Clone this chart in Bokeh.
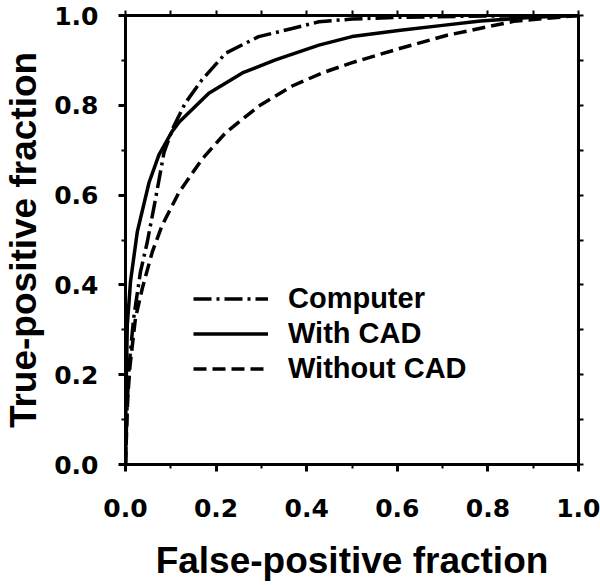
from bokeh.plotting import figure
from bokeh.models import Range1d, LinearAxis, FixedTicker, Legend, LegendItem
from bokeh.embed import file_html
from bokeh.resources import INLINE

# ---- data ----
computer_fpf = [0.0, 0.003, 0.008, 0.018, 0.033, 0.048, 0.066, 0.085, 0.105, 0.132, 0.169, 0.221,
                0.294, 0.368, 0.427, 0.5, 0.6, 0.8, 1.0]
computer_tpf = [0.0, 0.12, 0.22, 0.326, 0.429, 0.495, 0.59, 0.695, 0.75, 0.805, 0.857, 0.916,
                0.953, 0.971, 0.986, 0.992, 0.996, 0.999, 1.0]

withcad_fpf = [0.0, 0.001, 0.004, 0.011, 0.026, 0.052, 0.074, 0.103, 0.118, 0.184, 0.258, 0.331,
               0.427, 0.5, 0.607, 0.7, 0.784, 0.9, 1.0]
withcad_tpf = [0.0, 0.15, 0.311, 0.407, 0.518, 0.628, 0.69, 0.742, 0.762, 0.827, 0.872, 0.901,
               0.934, 0.953, 0.967, 0.978, 0.988, 0.996, 1.0]

without_fpf = [0.0, 0.005, 0.01, 0.022, 0.037, 0.059, 0.081, 0.118, 0.169, 0.221, 0.294, 0.368,
               0.434, 0.497, 0.607, 0.71, 0.857, 1.0]
without_tpf = [0.0, 0.15, 0.22, 0.326, 0.392, 0.473, 0.533, 0.606, 0.68, 0.739, 0.798, 0.843,
               0.872, 0.894, 0.927, 0.956, 0.987, 1.0]

series_names = ["Computer", "With CAD", "Without CAD"]

tick_values = [0.0, 0.2, 0.4, 0.6, 0.8, 1.0]
tick_labels = ["0.0", "0.2", "0.4", "0.6", "0.8", "1.0"]
minor_values = [0.1, 0.3, 0.5, 0.7, 0.9]

FONT = "Liberation Sans"
TICK_FONT = "DejaVu Sans"

p = figure(width=600, height=585,
           x_range=Range1d(0, 1), y_range=Range1d(0, 1),
           output_backend="svg", toolbar_location=None,
           min_border_left=125, min_border_right=22,
           min_border_top=15, min_border_bottom=121,
           x_axis_label="False-positive fraction",
           y_axis_label="True-positive fraction")
p.outline_line_color = None
p.xgrid.visible = False
p.ygrid.visible = False
p.background_fill_color = "white"
p.border_fill_color = "white"


def style_main(ax):
    ax.ticker = FixedTicker(ticks=tick_values, minor_ticks=minor_values)
    ax.axis_line_width = 3
    ax.axis_line_color = "black"
    ax.major_tick_line_width = 3
    ax.minor_tick_line_width = 2
    ax.major_tick_in = 0
    ax.minor_tick_in = 0
    ax.major_tick_out = 7
    ax.minor_tick_out = 4
    ax.major_label_overrides = {v: l for v, l in zip(tick_values, tick_labels)}
    ax.major_label_text_font = TICK_FONT
    ax.major_label_text_font_style = "bold"
    ax.major_label_text_font_size = "25px"
    ax.major_label_text_color = "black"
    ax.axis_label_text_font = FONT
    ax.axis_label_text_font_style = "bold"
    ax.axis_label_text_font_size = "37px"
    ax.axis_label_text_color = "black"


def style_mirror(ax):
    # mirrored frame side: tick marks only, no labels
    ax.ticker = FixedTicker(ticks=[], minor_ticks=tick_values + minor_values)
    ax.axis_line_width = 3
    ax.axis_line_color = "black"
    ax.minor_tick_line_width = 2
    ax.minor_tick_in = 0
    ax.minor_tick_out = 5
    ax.major_tick_in = 0
    ax.major_tick_out = 0
    ax.major_label_standoff = 0


style_main(p.xaxis[0])
style_main(p.yaxis[0])
p.xaxis[0].major_label_standoff = 27
p.xaxis[0].axis_label_standoff = 20
p.yaxis[0].major_label_standoff = 20
p.yaxis[0].axis_label_standoff = 7

top = LinearAxis()
right = LinearAxis()
style_mirror(top)
style_mirror(right)
p.add_layout(top, "above")
p.add_layout(right, "right")

r1 = p.line(computer_fpf, computer_tpf, line_width=3.5, color="black", line_dash="18 5 3 5")
r2 = p.line(withcad_fpf, withcad_tpf, line_width=3.5, color="black")
r3 = p.line(without_fpf, without_tpf, line_width=3.5, color="black", line_dash="13 6")

legend = Legend(items=[LegendItem(label=series_names[0], renderers=[r1]),
                       LegendItem(label=series_names[1], renderers=[r2]),
                       LegendItem(label=series_names[2], renderers=[r3])],
                location=(68, 78), glyph_width=75, glyph_height=35,
                label_height=35, label_standoff=20, spacing=0, padding=0,
                margin=0, border_line_color=None, background_fill_alpha=0,
                label_text_font=FONT, label_text_font_style="bold",
                label_text_font_size="29px", label_text_color="black")
p.add_layout(legend, "center")

open("out.html", "w").write(file_html(p, INLINE))
